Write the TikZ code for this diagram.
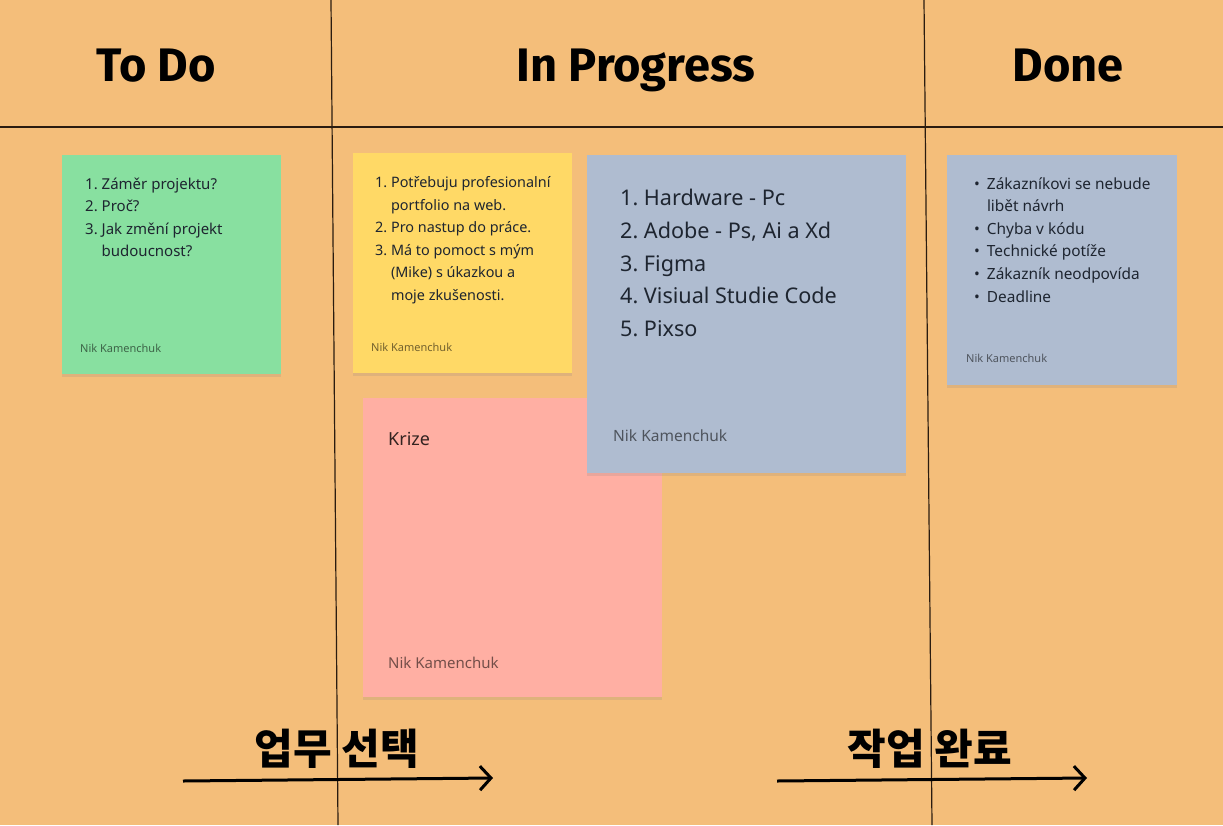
\documentclass[tikz,border=0pt]{standalone}
\usepackage{fontspec}
\setmainfont{Noto Sans}
\newfontfamily\headfont{Fira Sans}
\newfontfamily\krfont{Noto Sans CJK KR}
\usetikzlibrary{calc, positioning}
\usetikzlibrary{arrows.meta}
\usetikzlibrary{shadows}

\definecolor{boardbg}{HTML}{F4BE7A}
\definecolor{boardline}{HTML}{2A1C10}
\definecolor{notegreen}{HTML}{88E0A0}
\definecolor{noteyellow}{HTML}{FFD966}
\definecolor{notepink}{HTML}{FFAFA3}
\definecolor{noteblue}{HTML}{AFBCD0}
\definecolor{notetextcol}{HTML}{1E2530}

\tikzset{
  note/.style={anchor=north west, inner sep=0pt, draw=none,
    drop shadow={opacity=0.18, shadow xshift=0pt, shadow yshift=-3pt}},
  notelist/.style={anchor=north west, inner sep=0pt, text=notetextcol, align=left},
  author/.style={anchor=base west, inner sep=0pt, text=black, text opacity=0.55},
  colhead/.style={anchor=base, inner sep=0pt, font=\headfont\bfseries\fontsize{47}{50}\selectfont},
  flowlabel/.style={anchor=base, inner sep=0pt, font=\krfont\bfseries\fontsize{42}{46}\selectfont},
  flowarrow/.style={line width=3pt, -{Straight Barb[length=11pt, width=24pt, line width=3pt]}},
  colline/.style={boardline, line width=1.2pt}
}

\begin{document}
\begin{tikzpicture}[x=1pt, y=-1pt]
\fill[boardbg] (0,0) rectangle (1223,825);
\useasboundingbox (0,0) rectangle (1223,825);

% Board grid
\coordinate (leftTop) at (331,0);
\coordinate (leftBot) at (338,825);
\coordinate (rightTop) at (924,0);
\coordinate (rightBot) at (932,825);
\coordinate (headLeft) at (0,127);
\coordinate (headRight) at (1223,127);
\draw[colline] (headLeft) -- (headRight);
\draw[colline] (leftTop) -- (leftBot);
\draw[colline] (rightTop) -- (rightBot);

% Column headings
\node[colhead] (todohead) at (156,81) {To Do};
\node[colhead] (proghead) at (636,81) {In Progress};
\node[colhead] (donehead) at (1068,81) {Done};

% To Do note
\node[note, fill=notegreen, minimum width=219pt, minimum height=219pt] (todonote) at (62,155) {};
\node[notelist, below right=18pt and 23pt of todonote.north west,
    font=\fontsize{15}{22.6}\selectfont] (todolist) {%
  \begin{tabular}{@{}r@{\ }l@{}}
  1. & Záměr projektu?\\
  2. & Proč?\\
  3. & Jak změní projekt\\
     & budoucnost?
  \end{tabular}};
\node[author, font=\fontsize{11}{13}\selectfont] (todoauthor)
    at ($(todonote.south west)+(18,-22)$) {Nik Kamenchuk};

% In Progress notes
\node[note, fill=noteyellow, minimum width=219pt, minimum height=220pt] (whynote) at (353,153) {};
\node[notelist, below right=19pt and 22pt of whynote.north west,
    font=\fontsize{14.4}{22.5}\selectfont] (whylist) {%
  \begin{tabular}{@{}r@{\ }l@{}}
  1. & Potřebuju profesionalní\\
     & portfolio na web.\\
  2. & Pro nastup do práce.\\
  3. & Má to pomoct s mým\\
     & (Mike) s úkazkou a\\
     & moje zkušenosti.
  \end{tabular}};
\node[author, font=\fontsize{11}{13}\selectfont] (whyauthor)
    at ($(whynote.south west)+(18,-22)$) {Nik Kamenchuk};

\node[note, fill=notepink, minimum width=299pt, minimum height=299pt] (crisisnote) at (363,398) {};
\node[author, text opacity=0.8, font=\fontsize{18}{20}\selectfont] (crisistitle)
    at ($(crisisnote.north west)+(25,47)$) {Krize};
\node[author, font=\fontsize{15}{17}\selectfont] (crisisauthor)
    at ($(crisisnote.south west)+(25,-29)$) {Nik Kamenchuk};

\node[note, fill=noteblue, minimum width=319pt, minimum height=318pt] (toolnote) at (587,155) {};
\node[notelist, below right=27.5pt and 33pt of toolnote.north west,
    font=\fontsize{21.6}{32.75}\selectfont] (toollist) {%
  \begin{tabular}{@{}r@{\ }l@{}}
  1. & Hardware - Pc\\
  2. & Adobe - Ps, Ai a Xd\\
  3. & Figma\\
  4. & Visiual Studie Code\\
  5. & Pixso
  \end{tabular}};
\node[author, font=\fontsize{15.5}{17}\selectfont] (toolauthor)
    at ($(toolnote.south west)+(26,-32)$) {Nik Kamenchuk};

% Done note
\node[note, fill=noteblue, minimum width=230pt, minimum height=230pt] (risknote) at (947,155) {};
\node[notelist, below right=18pt and 27pt of risknote.north west,
    font=\fontsize{15.4}{22.6}\selectfont] (risklist) {%
  \begin{tabular}{@{}l@{\hspace{7pt}}l@{}}
  \textbullet & Zákazníkovi se nebude\\
              & libět návrh\\
  \textbullet & Chyba v kódu\\
  \textbullet & Technické potíže\\
  \textbullet & Zákazník neodpovída\\
  \textbullet & Deadline
  \end{tabular}};
\node[author, font=\fontsize{11}{13}\selectfont] (riskauthor)
    at ($(risknote.south west)+(19,-23)$) {Nik Kamenchuk};

% Flow arrows
\coordinate (pickStart) at (183,781);
\coordinate (pickEnd) at (493,778);
\coordinate (doneStart) at (777,781);
\coordinate (doneEnd) at (1087,778);
\draw[flowarrow] (pickStart) -- (pickEnd);
\draw[flowarrow] (doneStart) -- (doneEnd);
\node[flowlabel] (picklabel) at (337,764) {업무 선택};
\node[flowlabel] (donelabel) at (930,764) {작업 완료};
\end{tikzpicture}
\end{document}
